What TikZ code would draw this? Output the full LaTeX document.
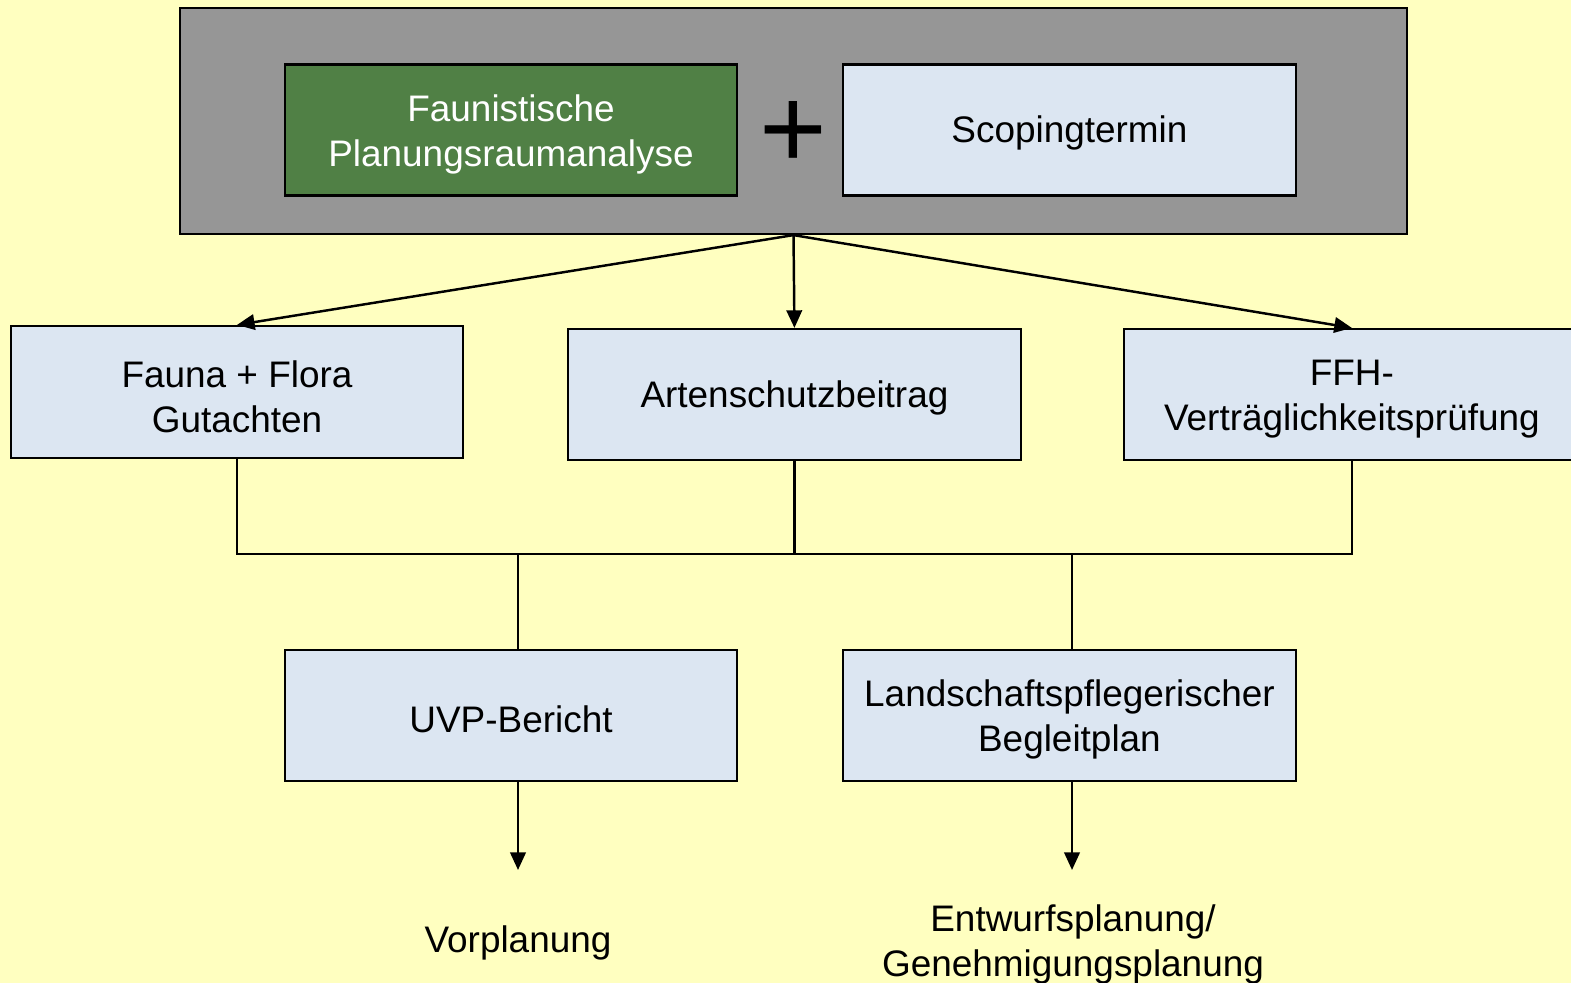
\documentclass[tikz,border=0pt]{standalone}
\usepackage{fontspec}
\setmainfont{Liberation Sans}
\usetikzlibrary{arrows.meta,positioning}
\definecolor{bggelb}{HTML}{FFFFC0}
\definecolor{rahmengrau}{HTML}{969696}
\definecolor{faunagruen}{HTML}{508045}
\definecolor{boxblau}{HTML}{DCE6F2}
\tikzset{node distance=1.03cm,
  box/.style={draw=black, line width=0.6pt, fill=boxblau, minimum width=4.52cm,
    minimum height=1.31cm, inner sep=0pt, align=center,
    font=\fontsize{10.5}{12.8}\selectfont},
  schrift/.style={align=center, inner sep=0pt, font=\fontsize{10.5}{12.8}\selectfont},
  eine/.style={text height=9.5pt},
  zwei/.style={text height=22.9pt},
  pfeil/.style={-{Triangle[length=5pt,width=4.4pt]}, line width=0.7pt},
  linie/.style={line width=0.6pt}}

\begin{document}
\begin{tikzpicture}[x=0.01cm,y=-0.01cm]
  \fill[bggelb] (0,0) rectangle (1571,983);
  \useasboundingbox (0,0) rectangle (1571,983);
  % Kopf
  \node (rahmen) [draw, line width=0.6pt, fill=rahmengrau, minimum width=12.27cm,
    minimum height=2.26cm, inner sep=0pt] at (793.5,121) {};
  \node (fpa) [box, zwei, fill=faunagruen, text=white] at (511,130)
    {Faunistische\\Planungsraumanalyse};
  \node (scoping) [box, eine, right=1.04cm of fpa] {Scopingtermin};
  \node (plus) at (793,135) {\fontsize{33}{33}\selectfont +};
  % Gutachten
  \node (fauna) [box, zwei, minimum height=1.32cm] at (237,392) {Fauna + Flora\\Gutachten};
  \node (arten) [box, eine, right=1.03cm of fauna, yshift=-0.025cm] {Artenschutzbeitrag};
  \node (ffh) [box, zwei, minimum width=4.56cm, right=1.01cm of arten] {FFH-\\Verträglichkeitsprüfung};
  % Berichte
  \node (uvp) [box, eine] at (511,715.5) {UVP-Bericht};
  \node (lbp) [box, zwei, right=1.04cm of uvp] {Landschaftspflegerischer\\Begleitplan};
  \node (vor) [schrift, eine] at (518,940) {Vorplanung};
  \node (entwurf) [schrift, zwei] at (1073,940) {Entwurfsplanung/\\Genehmigungsplanung};
  \coordinate (sammel) at (518,554);
  \coordinate (e1) at (518,870);
  \coordinate (e2) at (1072,870);

  \draw[pfeil] (rahmen.south) -- (fauna.north);
  \draw[pfeil] (rahmen.south) -- (arten.north);
  \draw[pfeil] (rahmen.south) -- (ffh.north);
  \draw[linie] (fauna.south) |- (ffh.south |- sammel) -- (ffh.south);
  \draw[linie] (arten.south) -- (arten.south |- sammel);
  \draw[linie] (e1 |- sammel) -- (e1 |- uvp.north);
  \draw[linie] (e2 |- sammel) -- (e2 |- lbp.north);
  \draw[pfeil] (e1 |- uvp.south) -- (e1);
  \draw[pfeil] (e2 |- lbp.south) -- (e2);
\end{tikzpicture}
\end{document}
